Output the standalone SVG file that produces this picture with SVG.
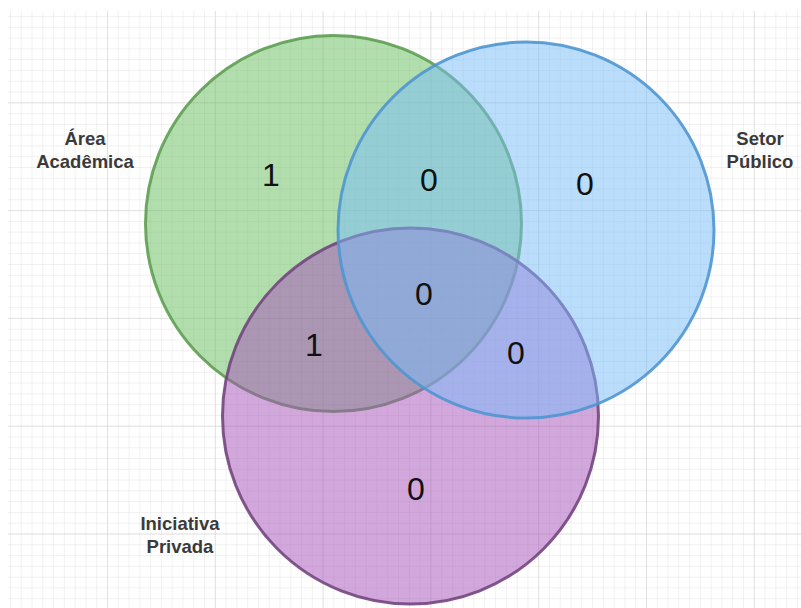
<svg xmlns="http://www.w3.org/2000/svg" width="801" height="608" viewBox="0 0 801 608">
<defs>
<pattern id="minor" x="-0.8" y="-5.5" width="10.78" height="10.78" patternUnits="userSpaceOnUse">
<path d="M 0 0 L 0 10.78 M 0 0 L 10.78 0" fill="none" stroke="#e3e3e3" stroke-width="1"/>
</pattern>
<pattern id="major" x="-0.8" y="-5.5" width="107.8" height="107.8" patternUnits="userSpaceOnUse">
<path d="M 0 0 L 0 107.8 M 0 0 L 107.8 0" fill="none" stroke="#d2d2d2" stroke-width="1"/>
</pattern>
<style>
.lbl{font-family:"Liberation Sans",Arial,sans-serif;font-size:18.5px;font-weight:bold;fill:#3a3a3a;text-anchor:middle}
.num{font-family:"Liberation Sans",Arial,sans-serif;font-size:32px;fill:#111111;text-anchor:middle}
.c{stroke-width:3}
</style>
</defs>
<rect x="0" y="0" width="801" height="608" fill="#ffffff"/>
<rect x="8" y="11" width="793" height="597" fill="url(#minor)"/>
<rect x="8" y="11" width="793" height="597" fill="url(#major)"/>
<g id="area-academica">
<circle class="c" cx="333.5" cy="223.5" r="188" fill="rgb(100,190,90)" fill-opacity="0.5" stroke="#5e9e52" stroke-opacity="0.9"/>
</g>
<g id="iniciativa-privada">
<circle class="c" cx="410.5" cy="416" r="188" fill="rgb(165,80,185)" fill-opacity="0.5" stroke="#73467f" stroke-opacity="0.9"/>
</g>
<g id="setor-publico">
<circle class="c" cx="526" cy="230" r="188" fill="rgb(120,188,250)" fill-opacity="0.5" stroke="#4f96d2" stroke-opacity="0.9"/>
</g>
<g id="connectors"></g>
<g id="labels">
<text class="lbl" x="85" y="145">Área</text>
<text class="lbl" x="85" y="168">Acadêmica</text>
<text class="lbl" x="760" y="145">Setor</text>
<text class="lbl" x="760" y="168">Público</text>
<text class="lbl" x="180" y="530">Iniciativa</text>
<text class="lbl" x="180" y="553">Privada</text>
</g>
<g id="counts">
<text class="num" x="271" y="186">1</text>
<text class="num" x="429" y="191">0</text>
<text class="num" x="585" y="195">0</text>
<text class="num" x="424" y="305">0</text>
<text class="num" x="314" y="356">1</text>
<text class="num" x="516" y="364">0</text>
<text class="num" x="416" y="500">0</text>
</g>
</svg>
